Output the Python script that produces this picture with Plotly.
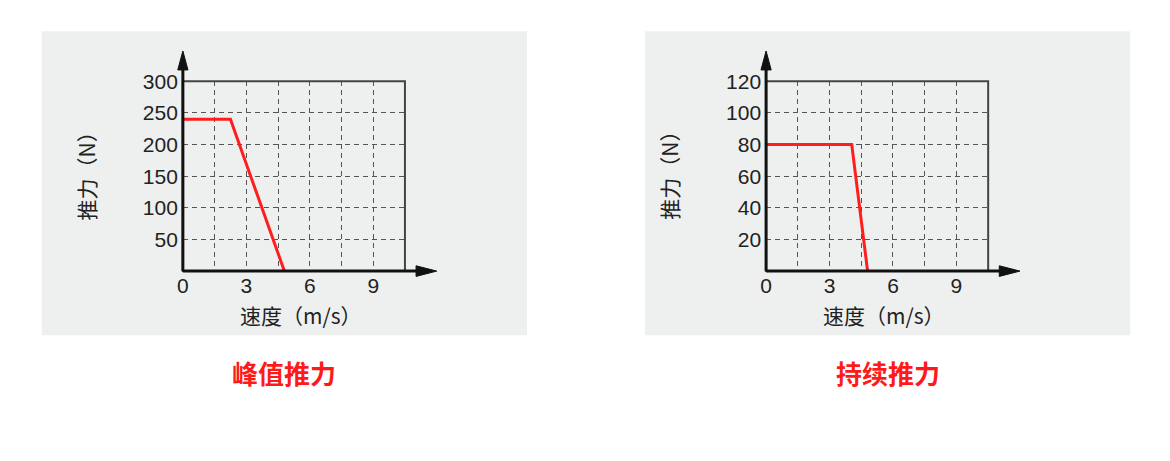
import plotly.graph_objects as go

W, H = 1170, 461

# ---- data ----
peak_speed = [0, 2.25, 4.8]
peak_force = [240, 240, 0]
cont_speed = [0, 4.05, 4.8]
cont_force = [80, 80, 0]

x_tickvals = [0, 1.5, 3, 4.5, 6, 7.5, 9, 10.5]
x_ticktext = ["0", "", "3", "", "6", "", "9", ""]
peak_yticks = [0, 50, 100, 150, 200, 250, 300]
peak_yticktext = ["", "50", "100", "150", "200", "250", "300"]
cont_yticks = [0, 20, 40, 60, 80, 100, 120]
cont_yticktext = ["", "20", "40", "60", "80", "100", "120"]

titles = ["峰值推力", "持续推力"]
x_title = "速度（m/s）"
y_title = "推力（N）"

# placement helpers (target pixel -> paper fraction, compensating the capture offset)
SX, OX = 0.9945, 6.2
SY, OY = 0.970, 12.95

def px(x):
    return ((x - OX) / SX) / W

def py(y):
    return (H - (y - OY) / SY) / H

# plot areas in target pixels
areas = [(183, 405, 82, 271), (766, 988, 82, 271)]
boxes = [(42, 527, 32, 335), (645, 1130, 32, 335)]

fig = go.Figure()
fig.add_trace(go.Scatter(x=peak_speed, y=peak_force, mode="lines",
                         line=dict(color="#ff1e1e", width=3),
                         xaxis="x", yaxis="y", showlegend=False, hoverinfo="skip"))
fig.add_trace(go.Scatter(x=cont_speed, y=cont_force, mode="lines",
                         line=dict(color="#ff1e1e", width=3),
                         xaxis="x2", yaxis="y2", showlegend=False, hoverinfo="skip"))

tickfont = dict(family="Liberation Sans, Arial, sans-serif", size=21, color="#222222")
cjk = "Noto Sans CJK SC"

def xaxis_cfg(area, anchor):
    x0, x1, y0, y1 = area
    return dict(domain=[px(x0), px(x1)], range=[0, 10.5], anchor=anchor,
                tickvals=x_tickvals, ticktext=x_ticktext, tickfont=tickfont,
                showgrid=True, gridcolor="#555555", gridwidth=1, griddash="5px,4px",
                zeroline=False, showline=False, ticks="", ticklabelstandoff=0,
                fixedrange=True)

def yaxis_cfg(area, anchor, tv, tt, rmax):
    x0, x1, y0, y1 = area
    return dict(domain=[py(y1), py(y0)], range=[0, rmax], anchor=anchor,
                tickvals=tv, ticktext=tt, tickfont=tickfont,
                showgrid=True, gridcolor="#555555", gridwidth=1, griddash="5px,4px",
                zeroline=False, showline=False, ticks="", ticklabelstandoff=4,
                fixedrange=True)

shapes = []
for (bx0, bx1, by0, by1) in boxes:
    shapes.append(dict(type="rect", xref="paper", yref="paper",
                       x0=px(bx0), x1=px(bx1), y0=py(by1), y1=py(by0),
                       fillcolor="#eef0f0", line=dict(width=0), layer="below"))

for xr, yr in [("x", "y"), ("x2", "y2")]:
    xd, yd = xr + " domain", yr + " domain"
    shapes.append(dict(type="rect", xref=xd, yref=yd, x0=0, x1=1, y0=0, y1=1,
                       line=dict(color="#444444", width=2), layer="above"))
    shapes.append(dict(type="line", xref=xd, yref=yd, x0=0, x1=0, y0=0, y1=1.08,
                       line=dict(color="#111111", width=3), layer="above"))
    shapes.append(dict(type="path", xref=xd, yref=yd,
                       path="M -0.023,1.06 L 0.023,1.06 L 0,1.16 Z",
                       fillcolor="#111111", line=dict(color="#111111", width=1), layer="above"))
    shapes.append(dict(type="line", xref=xd, yref=yd, x0=0, x1=1.06, y0=0, y1=0,
                       line=dict(color="#111111", width=3), layer="above"))
    shapes.append(dict(type="path", xref=xd, yref=yd,
                       path="M 1.05,-0.028 L 1.05,0.028 L 1.143,0 Z",
                       fillcolor="#111111", line=dict(color="#111111", width=1), layer="above"))

annotations = []
for i, (x0, x1, y0, y1) in enumerate(areas):
    cx = (x0 + x1) / 2
    annotations.append(dict(text=x_title, x=px(cx + 7), y=py(315), xref="paper", yref="paper",
                            showarrow=False, font=dict(family=cjk, size=21, color="#222222"),
                            xanchor="center", yanchor="middle"))
    annotations.append(dict(text=y_title, x=px(x0 - 97), y=py(171), xref="paper", yref="paper",
                            showarrow=False, textangle=-90,
                            font=dict(family=cjk, size=21, color="#222222"),
                            xanchor="center", yanchor="middle"))
    bx0, bx1, _, _ = boxes[i]
    annotations.append(dict(text="<b>" + titles[i] + "</b>", x=px((bx0 + bx1) / 2), y=py(372),
                            xref="paper", yref="paper", showarrow=False,
                            font=dict(family=cjk, size=26, color="#ff1a1a"),
                            xanchor="center", yanchor="middle"))

fig.update_layout(
    width=W, height=H, margin=dict(l=0, r=0, t=0, b=0),
    paper_bgcolor="white", plot_bgcolor="rgba(0,0,0,0)",
    xaxis=xaxis_cfg(areas[0], "y"),
    yaxis=yaxis_cfg(areas[0], "x", peak_yticks, peak_yticktext, 300),
    xaxis2=xaxis_cfg(areas[1], "y2"),
    yaxis2=yaxis_cfg(areas[1], "x2", cont_yticks, cont_yticktext, 120),
    shapes=shapes, annotations=annotations, showlegend=False,
)

fig.write_html("out.html", config={"displayModeBar": False},
               post_script="document.body.style.margin='0';document.body.style.overflow='hidden';")
